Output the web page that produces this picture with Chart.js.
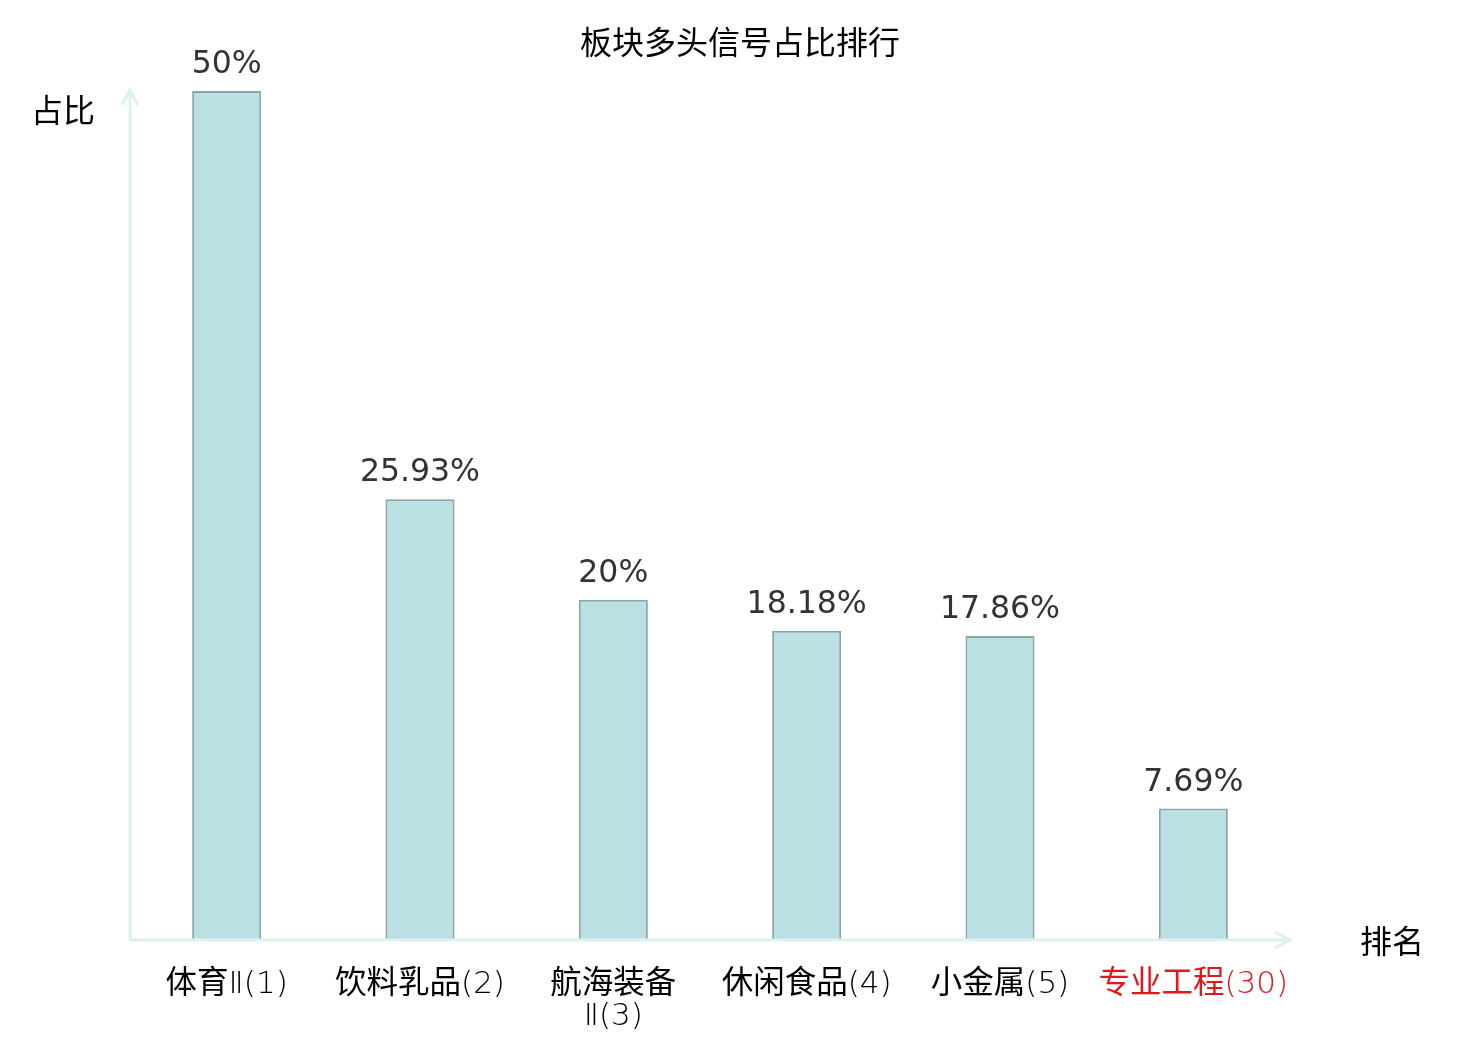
<!DOCTYPE html>
<html>
<head>
<meta charset="utf-8">
<script src="https://cdn.jsdelivr.net/npm/chart.js@4/dist/chart.umd.min.js"></script>
<style>
  html, body { margin: 0; padding: 0; background: #fff; }
  canvas { display: block; }
</style>
</head>
<body>
<canvas id="chart" width="1480" height="1040"></canvas>
<script>
// chart data
var categories = ['体育Ⅱ(1)', '饮料乳品(2)', ['航海装备', 'Ⅱ(3)'], '休闲食品(4)', '小金属(5)', '专业工程(30)'];
var values = [50, 25.93, 20, 18.18, 17.86, 7.69];
var labelColors = ['#000000', '#000000', '#000000', '#000000', '#000000', '#e8141b'];
var titleText = '板块多头信号占比排行';
var yName = '占比';
var xName = '排名';

var axisColor = '#ddf1ee';
var cjkFont = '"Noto Sans CJK SC", "DejaVu Sans", sans-serif';
var latinFont = '200 31px "DejaVu Sans", sans-serif';
var numFont = '"DejaVu Sans", "Noto Sans CJK SC", sans-serif';

// draw a label whose CJK and latin parts use different fonts, centred on x
function drawMixed(ctx, text, x, y) {
    var runs = text.match(/[\u4e00-\u9fff]+|[^\u4e00-\u9fff]+/g) || [];
    var parts = runs.map(function (r) {
        var font = /[\u4e00-\u9fff]/.test(r) ? '31.5px ' + cjkFont : latinFont;
        ctx.font = font;
        return { text: r, font: font, w: ctx.measureText(r).width };
    });
    var total = parts.reduce(function (s, p) { return s + p.w; }, 0);
    var cx = x - total / 2;
    ctx.textAlign = 'left';
    ctx.textBaseline = 'alphabetic';
    parts.forEach(function (p) {
        ctx.font = p.font;
        ctx.fillText(p.text, cx, y);
        cx += p.w;
    });
    ctx.textAlign = 'center';
    ctx.textBaseline = 'middle';
}

var decorPlugin = {
    id: 'decor',
    afterDatasetsDraw: function (chart) {
        var ctx = chart.ctx;
        var area = chart.chartArea;
        var xs = chart.scales.x;
        var meta = chart.getDatasetMeta(0);

        ctx.save();
        // axes with arrows
        ctx.strokeStyle = axisColor;
        ctx.lineWidth = 3;
        ctx.beginPath();
        ctx.moveTo(area.left, area.bottom + 1);
        ctx.lineTo(area.left, area.top - 1);
        ctx.moveTo(area.left - 8, area.top + 14);
        ctx.lineTo(area.left, area.top - 1);
        ctx.lineTo(area.left + 8, area.top + 14);
        ctx.moveTo(area.left, area.bottom + 1);
        ctx.lineTo(area.right, area.bottom + 1);
        ctx.moveTo(area.right - 15, area.bottom - 7);
        ctx.lineTo(area.right, area.bottom + 1);
        ctx.lineTo(area.right - 15, area.bottom + 9);
        ctx.stroke();

        // value labels
        ctx.textAlign = 'center';
        ctx.textBaseline = 'middle';
        ctx.font = '31.5px ' + numFont;
        ctx.fillStyle = '#333333';
        meta.data.forEach(function (bar, i) {
            ctx.fillText(values[i] + '%', bar.x, bar.y - 26);
        });

        // category labels
        categories.forEach(function (cat, i) {
            var x = xs.getPixelForValue(i);
            var lines = Array.isArray(cat) ? cat : [cat];
            ctx.fillStyle = labelColors[i];
            lines.forEach(function (line, j) {
                drawMixed(ctx, line, x, area.bottom + 54 + j * 32);
            });
        });

        // title and axis names
        ctx.fillStyle = '#000000';
        ctx.font = '32px ' + cjkFont;
        ctx.fillText(titleText, 740, 42);
        ctx.fillText(yName, 63, 110);
        ctx.fillText(xName, 1392, 941);
        ctx.restore();
    }
};

new Chart(document.getElementById('chart'), {
    type: 'bar',
    data: {
        labels: categories,
        datasets: [{
            data: values,
            backgroundColor: '#bbe0e3',
            borderColor: '#88a6a7',
            borderWidth: 2,
            barPercentage: 0.357,
            categoryPercentage: 1
        }]
    },
    options: {
        responsive: false,
        animation: false,
        devicePixelRatio: 1,
        layout: {
            padding: { left: 130, right: 190, top: 91, bottom: 101 }
        },
        scales: {
            x: { display: false },
            y: { display: false, min: 0, max: 50 }
        },
        plugins: {
            legend: { display: false },
            tooltip: { enabled: false }
        }
    },
    plugins: [decorPlugin]
});
</script>
</body>
</html>
